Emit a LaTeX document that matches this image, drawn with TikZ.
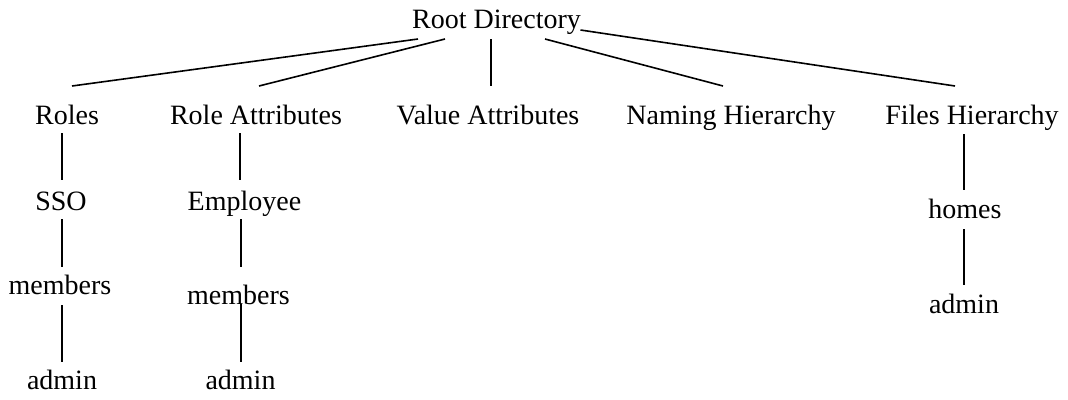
\documentclass[tikz,border=0pt]{standalone}
\usepackage{fontspec}
\setmainfont{Liberation Serif}
\usetikzlibrary{calc}
\begin{document}
\begin{tikzpicture}[x=1pt,y=-1pt,
  label/.style={anchor=base,inner sep=0pt,font=\fontsize{28}{34}\selectfont},
  link/.style={line width=1.6pt}]
\useasboundingbox (0,0) rectangle (1068,399);

% directory entries, placed by their baselines
\node[label] (root)     at (496.5,28)  {Root Directory};
\node[label] (roles)    at (67,124)    {Roles};
\node[label] (roleattr) at (256,124)   {Role Attributes};
\node[label] (valattr)  at (488,124)   {Value Attributes};
\node[label] (naming)   at (731,124)   {Naming Hierarchy};
\node[label] (files)    at (972,124)   {Files Hierarchy};
\node[label] (sso)      at (61,210)    {SSO};
\node[label] (employee) at (244.5,210) {Employee};
\node[label] (membA)    at (60,294)    {members};
\node[label] (membB)    at (238.5,304) {members};
\node[label] (adminA)   at (62,389)    {admin};
\node[label] (adminB)   at (240.5,389) {admin};
\node[label] (homes)    at (965,218)   {homes};
\node[label] (adminC)   at (964,313)   {admin};

% links from the root
\draw[link] ($(root.base)+(-78.5,11)$) -- ($(roles.base)+(5,-38)$);
\draw[link] ($(root.base)+(-51.5,11)$) -- ($(roleattr.base)+(3,-38)$);
\draw[link] ($(root.base)+(-5.5,11)$)  -- ($(valattr.base)+(3,-38)$);
\draw[link] ($(root.base)+(48.5,11)$)  -- ($(naming.base)+(-8,-38)$);
\draw[link] ($(root.base)+(84,2)$)     -- ($(files.base)+(-17,-38)$);

% Roles branch
\draw[link] ($(roles.base)+(-5,9)$)  -- ($(sso.base)+(1,-30)$);
\draw[link] ($(sso.base)+(1,9)$)     -- ($(membA.base)+(2,-27)$);
\draw[link] ($(membA.base)+(2,11)$)  -- ($(adminA.base)+(0,-27)$);

% Role Attributes branch
\draw[link] ($(roleattr.base)+(-16,9)$) -- ($(employee.base)+(-4.5,-30)$);
\draw[link] ($(employee.base)+(-3.5,9)$) -- ($(membB.base)+(2.5,-37)$);
\draw[link] ($(membB.base)+(2.5,0)$)    -- ($(adminB.base)+(0.5,-27)$);

% Files Hierarchy branch
\draw[link] ($(files.base)+(-8,10)$) -- ($(homes.base)+(-1,-28)$);
\draw[link] ($(homes.base)+(-1,11)$) -- ($(adminC.base)+(0,-28)$);
\end{tikzpicture}
\end{document}
